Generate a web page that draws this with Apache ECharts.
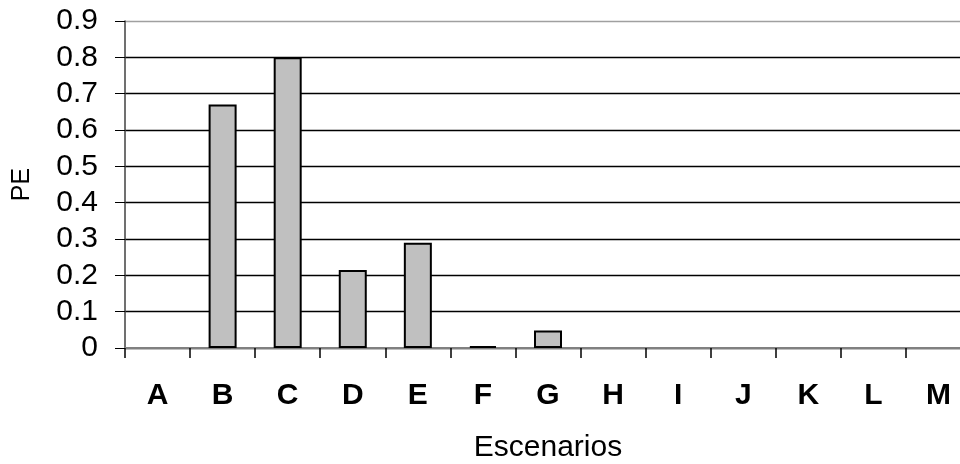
<!DOCTYPE html>
<html>
<head>
<meta charset="utf-8">
<script src="https://cdn.jsdelivr.net/npm/echarts@6/dist/echarts.min.js"></script>
<style>
  html, body { margin: 0; padding: 0; background: #fff; }
  #chart { width: 960px; height: 464px; }
</style>
</head>
<body>
<div id="chart"></div>
<script>
// Scenario labels and PE values
const scenarios = ['A', 'B', 'C', 'D', 'E', 'F', 'G', 'H', 'I', 'J', 'K', 'L', 'M'];
const peValues = [0, 0.67, 0.8, 0.215, 0.29, 0.005, 0.048, 0, 0, 0, 0, 0, 0];
const yTicks = [0, 0.1, 0.2, 0.3, 0.4, 0.5, 0.6, 0.7, 0.8, 0.9];

const chart = echarts.init(document.getElementById('chart'));
const gridColors = yTicks.map((v, i) => (i === yTicks.length - 1 ? '#a0a0a0' : '#000'));

// zero-valued bars get no outline so they stay invisible
const barData = peValues.map(v => (v === 0 ? { value: v, itemStyle: { borderWidth: 0 } } : v));

chart.setOption({
  animation: false,
  grid: { left: 125, right: -11, top: 21, bottom: 116, outerBoundsMode: 'none', containLabel: false },
  xAxis: {
    type: 'category',
    data: scenarios,
    name: 'Escenarios',
    nameLocation: 'middle',
    nameGap: 85,
    nameTextStyle: { fontFamily: 'Liberation Sans, Arial', fontSize: 30, color: '#000' },
    axisLine: { lineStyle: { color: '#808080', width: 2 } },
    axisTick: { show: true, length: 10, lineStyle: { color: '#000', width: 1.5 } },
    axisLabel: { fontFamily: 'Liberation Sans, Arial', fontWeight: 'bold', fontSize: 30, color: '#000', margin: 33 }
  },
  yAxis: {
    type: 'value',
    min: 0,
    max: 0.9,
    interval: 0.1,
    name: 'PE',
    nameLocation: 'middle',
    nameGap: 90,
    nameRotate: 90,
    nameTextStyle: { fontFamily: 'Liberation Sans, Arial', fontSize: 25, color: '#000' },
    axisLine: { show: true, lineStyle: { color: '#404040', width: 1.5 } },
    axisTick: { show: true, length: 10, lineStyle: { color: '#000', width: 1 } },
    axisLabel: {
      fontFamily: 'Liberation Sans, Arial', fontSize: 30, color: '#000', margin: 27,
      formatter: v => String(Math.round(v * 10) / 10)
    },
    splitLine: { show: true, lineStyle: { color: gridColors, width: 1.3 } }
  },
  series: [{
    type: 'bar',
    data: barData,
    barWidth: 28,
    itemStyle: { color: '#c0c0c0', borderColor: '#000', borderWidth: 2 }
  }]
});
</script>
</body>
</html>
